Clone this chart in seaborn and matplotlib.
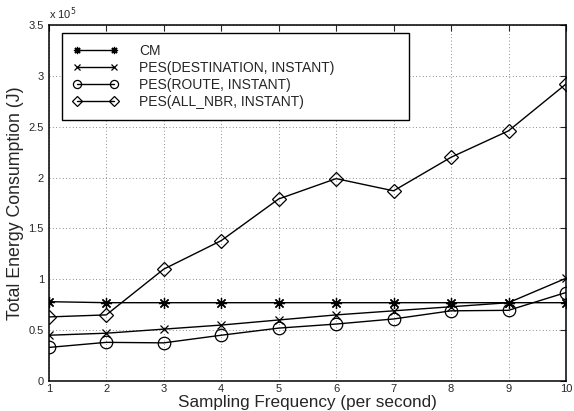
# Total energy consumption vs sampling frequency (Matlab-style line chart)
import matplotlib
matplotlib.use('Agg')
import matplotlib.pyplot as plt
from matplotlib.ticker import FuncFormatter
import pandas as pd
import seaborn as sns

freq = [1, 2, 3, 4, 5, 6, 7, 8, 9, 10]
cm = [78000, 77000, 77000, 77000, 77000, 77000, 77000, 77000, 77000, 77000]
pes_dest = [45000, 47000, 51000, 55000, 60000, 65000, 69000, 73000, 77000, 101000]
pes_route = [33000, 38000, 37500, 45000, 52000, 56000, 61000, 69000, 69500, 87000]
pes_all = [63000, 65000, 110000, 138000, 179000, 199000, 187000, 220000, 246000, 292000]

labels = ['CM', 'PES(DESTINATION, INSTANT)', 'PES(ROUTE, INSTANT)', 'PES(ALL_NBR, INSTANT)']
series = [cm, pes_dest, pes_route, pes_all]
markers = [(8, 2, 0), 'x', 'o', 'D']
msizes = [8, 6, 9, 7.5]

sns.set_style('white')
plt.rcParams['font.family'] = ['Liberation Sans', 'DejaVu Sans']

fig = plt.figure(figsize=(5.74, 4.11), dpi=100)
ax = fig.add_axes([0.085, 0.073, 0.901, 0.866])

for lab, vals, m, ms in zip(labels, series, markers, msizes):
    df = pd.DataFrame({'freq': freq, 'energy': vals})
    sns.lineplot(data=df, x='freq', y='energy', ax=ax, label=lab, color='black',
                 marker=m, markersize=ms, markerfacecolor='none',
                 markeredgecolor='black', markeredgewidth=0.9, linewidth=1.0)

ax.set_xlim(1, 10)
ax.set_ylim(0, 350000)
ax.set_xticks(freq)
ax.set_yticks([i * 50000 for i in range(8)])
ax.yaxis.set_major_formatter(FuncFormatter(lambda v, p: '%g' % (v / 1e5)))
ax.tick_params(direction='in', top=True, right=True, labelsize=8, length=4, width=0.8)
ax.tick_params(axis='x', pad=2.5)
ax.grid(True, linestyle=(0, (1, 3)), color='#666666', linewidth=0.6)
for s in ax.spines.values():
    s.set_color('black')
    s.set_linewidth(1.1)

ax.set_xlabel('Sampling Frequency (per second)', fontsize=12.3, labelpad=0.5)
ax.set_ylabel('Total Energy Consumption (J)', fontsize=12.8, labelpad=3)
ax.text(0.0, 1.01, r'x 10$^5$', transform=ax.transAxes, fontsize=8, va='bottom', ha='left')

# legend box spans roughly 62..409 px wide, like the Matlab original
leg = ax.legend(loc='upper left', numpoints=2, fontsize=10, fancybox=False,
                edgecolor='black', framealpha=1, handlelength=3.3, handletextpad=1.5,
                markerscale=0.65, borderpad=0.8, labelspacing=0.22, mode='expand',
                bbox_to_anchor=(0.025, 0.7, 0.671, 0.278), borderaxespad=0)
leg.get_frame().set_linewidth(1.0)

fig.savefig('out.png', dpi=100)
